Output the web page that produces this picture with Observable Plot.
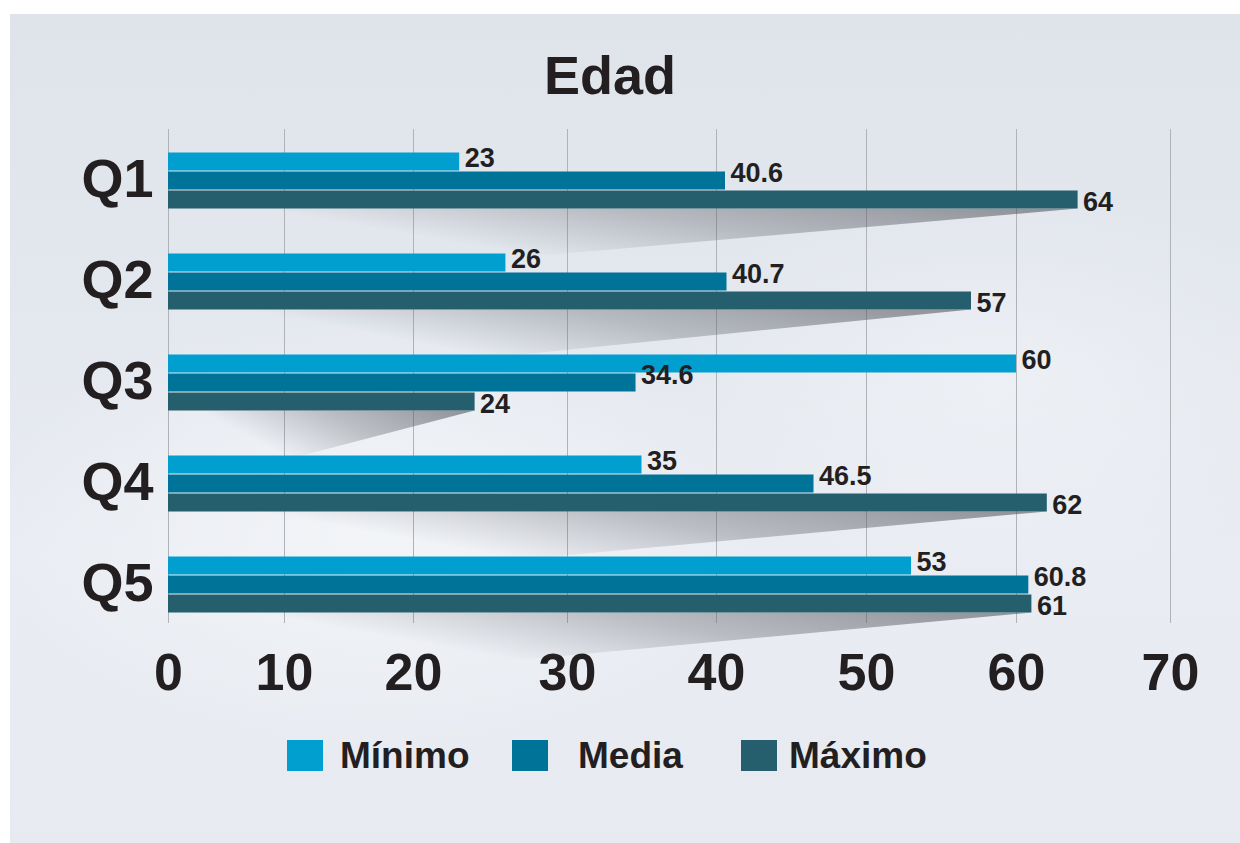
<!DOCTYPE html>
<html>
<head>
<meta charset="utf-8">
<script src="https://cdn.jsdelivr.net/npm/d3@7"></script>
<script src="https://cdn.jsdelivr.net/npm/@observablehq/plot@0.6"></script>
<style>
  html, body { margin: 0; padding: 0; background: #ffffff; width: 1240px; height: 843px; overflow: hidden; }
  body { font-family: "Liberation Sans", Arial, Helvetica, sans-serif; color: #231f20; }
  #panel {
    position: absolute; left: 10px; top: 14px; width: 1230px; height: 829px;
    background:
      radial-gradient(ellipse 45% 40% at 30% 62%, rgba(244,246,249,0.85), rgba(244,246,249,0) 70%),
      radial-gradient(ellipse 40% 35% at 80% 45%, rgba(240,243,247,0.7), rgba(240,243,247,0) 70%),
      linear-gradient(180deg, #dfe3ea 0%, #e3e7ee 35%, #e9ecf2 65%, #e7eaf0 100%);
  }
  #title {
    position: absolute; left: 0; top: 48px; width: 1220px; text-align: center;
    font-size: 54px; line-height: 54px; font-weight: bold;
  }
  #chart { position: absolute; left: 0; top: 110px; }
  #chart svg g[aria-label^="x-axis"] text { font-size: 52px; font-weight: bold; fill: #231f20; }
  #chart svg g[aria-label^="y-axis"] text { font-size: 54px; font-weight: bold; fill: #231f20; }
  #legend { position: absolute; left: 0; top: 737px; width: 1240px; height: 40px; }
  .sw { position: absolute; top: 3px; width: 36px; height: 31px; }
  .lb { position: absolute; top: 0; font-size: 37px; line-height: 37px; font-weight: bold; white-space: nowrap; }
</style>
</head>
<body>
<div id="panel"></div>
<div id="title">Edad</div>
<div id="chart"></div>
<div id="legend"></div>
<script>
// ---- data ----
const quarters = ["Q1", "Q2", "Q3", "Q4", "Q5"];
const seriesNames = ["Mínimo", "Media", "Máximo"];
const minimo = [23, 26, 60, 35, 53];
const media = [40.6, 40.7, 34.6, 46.5, 60.8];
const maximo = [64, 57, 24, 62, 61];
const xTicks = [0, 10, 20, 30, 40, 50, 60, 70];

// ---- styles / layout ----
const colors = ["#009fcf", "#007398", "#255f6d"];
const xTickPx = [168, 284, 413, 567, 716, 866, 1016, 1170]; // uneven gridline spacing as in the original
const insets = [[23.5, 59.5], [42.5, 40.5], [61.5, 21.5]];
const labelDy = [-22, -7, 22];

const seriesValues = [minimo, media, maximo];
const tables = seriesValues.map((vals, s) =>
  quarters.map((q, i) => ({quarter: q, series: seriesNames[s], value: vals[i]}))
);

function wedges(index, scales) {
  const ns = "http://www.w3.org/2000/svg";
  const g = document.createElementNS(ns, "g");
  const defs = document.createElementNS(ns, "defs");
  const grad = document.createElementNS(ns, "linearGradient");
  grad.setAttribute("id", "shade");
  grad.setAttribute("x1", "1"); grad.setAttribute("y1", "0");
  grad.setAttribute("x2", "0"); grad.setAttribute("y2", "0.5");
  [[0, 0.62], [0.4, 0.32], [0.72, 0]].forEach(([o, a]) => {
    const st = document.createElementNS(ns, "stop");
    st.setAttribute("offset", o);
    st.setAttribute("stop-color", "#55585f");
    st.setAttribute("stop-opacity", a);
    grad.appendChild(st);
  });
  defs.appendChild(grad);
  g.appendChild(defs);
  const step = scales.y(quarters[1]) - scales.y(quarters[0]);
  quarters.forEach((q, i) => {
    const xr = scales.x(maximo[i]);
    const x0 = scales.x(0);
    const yb = scales.y(q) + step - insets[2][1];
    const p = document.createElementNS(ns, "path");
    p.setAttribute("d", `M${xr},${yb}L${x0},${yb}L${x0},${yb + 80}Z`);
    p.setAttribute("fill", "url(#shade)");
    g.appendChild(p);
  });
  return g;
}

const fmt = v => String(v);

const marks = [
  Plot.ruleX(xTicks, {stroke: "#afb2b7", strokeWidth: 1}),
  wedges
];
tables.forEach((t, s) => {
  marks.push(Plot.barX(t, {
    x: "value", y: "quarter", fill: colors[s],
    insetTop: insets[s][0], insetBottom: insets[s][1]
  }));
});
tables.forEach((t, s) => {
  marks.push(Plot.text(t, {
    x: "value", y: "quarter", text: d => fmt(d.value),
    dx: 5, dy: labelDy[s], textAnchor: "start",
    fontSize: 27, fontWeight: "bold", fill: "#231f20"
  }));
});

const chart = Plot.plot({
  width: 1240,
  height: 600,
  marginTop: 19,
  marginBottom: 87,
  marginLeft: 168,
  marginRight: 70,
  style: {background: "transparent", fontFamily: "'Liberation Sans', Arial, sans-serif", overflow: "visible"},
  x: {type: "linear", domain: xTicks, range: xTickPx, ticks: xTicks, tickSize: 0, tickPadding: 30, label: null, tickFormat: d => String(d)},
  y: {domain: quarters, range: [18.5, 523.5], padding: 0, tickSize: 0, tickPadding: 15, label: null},
  marks
});
document.getElementById("chart").appendChild(chart);

// legend
const legend = document.getElementById("legend");
const swLeft = [287, 512, 741];
const lbLeft = [340, 578, 789];
seriesNames.forEach((name, s) => {
  const sw = document.createElement("div");
  sw.className = "sw"; sw.style.left = swLeft[s] + "px"; sw.style.background = colors[s];
  const lb = document.createElement("div");
  lb.className = "lb"; lb.style.left = lbLeft[s] + "px"; lb.textContent = name;
  legend.appendChild(sw); legend.appendChild(lb);
});
</script>
</body>
</html>
